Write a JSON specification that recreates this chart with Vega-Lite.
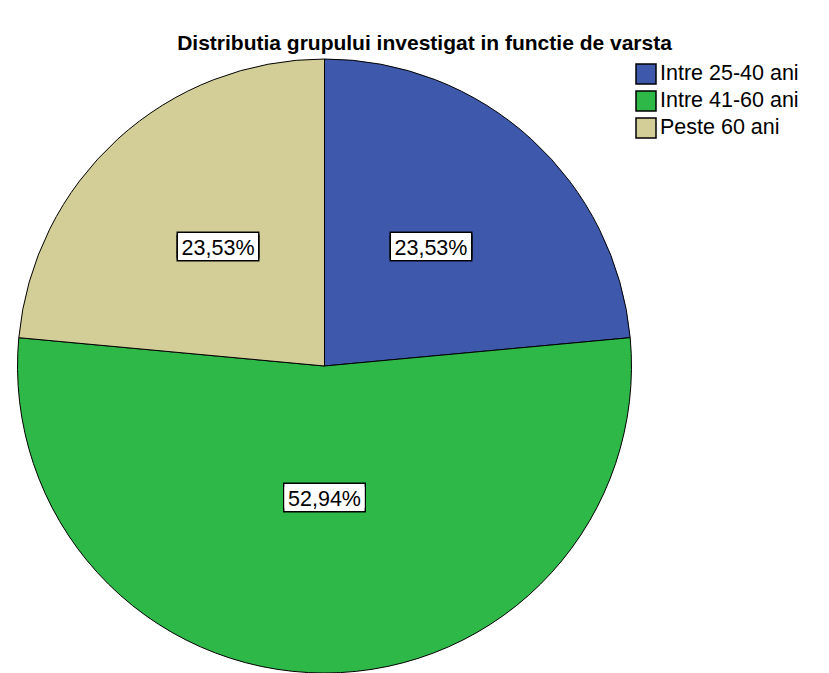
{
  "$schema": "https://vega.github.io/schema/vega-lite/v6.json",
  "width": 614,
  "height": 616,
  "autosize": {"type": "none"},
  "padding": {"left": 17.5, "top": 58, "right": 197.5, "bottom": 0},
  "background": "white",
  "title": {
    "text": "Distributia grupului investigat in functie de varsta",
    "font": "Liberation Sans",
    "fontSize": 21,
    "fontWeight": "bold",
    "color": "black",
    "anchor": "middle",
    "frame": "group",
    "dx": 100,
    "offset": 3
  },
  "data": {
    "values": [
      {"group": "Intre 25-40 ani", "share": 0.2353},
      {"group": "Intre 41-60 ani", "share": 0.5294},
      {"group": "Peste 60 ani", "share": 0.2353}
    ]
  },
  "encoding": {
    "theta": {"field": "share", "type": "quantitative", "stack": true},
    "order": {"field": "group", "type": "nominal", "sort": "ascending"}
  },
  "layer": [
    {
      "mark": {"type": "arc", "stroke": "black", "strokeWidth": 1},
      "encoding": {
        "color": {
          "field": "group",
          "type": "nominal",
          "scale": {
            "domain": ["Intre 25-40 ani", "Intre 41-60 ani", "Peste 60 ani"],
            "range": ["#3E58AC", "#2EB848", "#D3CE97"]
          },
          "legend": {
            "orient": "none",
            "legendX": 617.5,
            "legendY": 5,
            "title": null,
            "symbolType": "square",
            "symbolSize": 400,
            "symbolStrokeColor": "black",
            "symbolStrokeWidth": 1.5,
            "symbolOpacity": 1,
            "labelFont": "Liberation Sans",
            "labelFontSize": 21.5,
            "labelColor": "black",
            "labelOffset": 3,
            "rowPadding": 1,
            "labelLimit": 300,
            "padding": 0
          }
        }
      }
    },
    {
      "mark": {"type": "text", "font": "Liberation Sans", "fontSize": 80, "lineHeight": 2.6, "fill": "black", "stroke": "black", "strokeWidth": 3, "radius": 158, "align": "center", "baseline": "middle", "dy": -16},
      "encoding": {
        "detail": {"field": "group", "type": "nominal"},
        "text": {"condition": {"test": "datum.group !== 'Intre 41-60 ani'", "value": ["▬", "▬"]}, "value": ""}
      }
    },
    {
      "mark": {"type": "text", "font": "Liberation Sans", "fontSize": 80, "lineHeight": 2.6, "fill": "white", "radius": 158, "align": "center", "baseline": "middle", "dy": -16},
      "encoding": {
        "detail": {"field": "group", "type": "nominal"},
        "text": {"condition": {"test": "datum.group !== 'Intre 41-60 ani'", "value": ["▬", "▬"]}, "value": ""}
      }
    },
    {
      "mark": {"type": "text", "font": "Liberation Sans", "fontSize": 80, "lineHeight": 2.6, "fill": "black", "stroke": "black", "strokeWidth": 3, "radius": 134, "align": "center", "baseline": "middle", "dy": -16},
      "encoding": {
        "detail": {"field": "group", "type": "nominal"},
        "text": {"condition": {"test": "datum.group === 'Intre 41-60 ani'", "value": ["▬", "▬"]}, "value": ""}
      }
    },
    {
      "mark": {"type": "text", "font": "Liberation Sans", "fontSize": 80, "lineHeight": 2.6, "fill": "white", "radius": 134, "align": "center", "baseline": "middle", "dy": -16},
      "encoding": {
        "detail": {"field": "group", "type": "nominal"},
        "text": {"condition": {"test": "datum.group === 'Intre 41-60 ani'", "value": ["▬", "▬"]}, "value": ""}
      }
    },
    {
      "mark": {"type": "text", "font": "Liberation Sans", "fontSize": 21.5, "fill": "black", "radius": 158, "align": "center", "baseline": "middle"},
      "encoding": {
        "detail": {"field": "group", "type": "nominal"},
        "text": {"condition": {"test": "datum.group !== 'Intre 41-60 ani'", "field": "share", "type": "quantitative", "format": ".2%"}, "value": ""}
      }
    },
    {
      "mark": {"type": "text", "font": "Liberation Sans", "fontSize": 21.5, "fill": "black", "radius": 134, "align": "center", "baseline": "middle"},
      "encoding": {
        "detail": {"field": "group", "type": "nominal"},
        "text": {"condition": {"test": "datum.group === 'Intre 41-60 ani'", "field": "share", "type": "quantitative", "format": ".2%"}, "value": ""}
      }
    }
  ],
  "config": {
    "view": {"stroke": null},
    "locale": {"number": {"decimal": ",", "thousands": ".", "grouping": [3], "currency": ["", " €"]}}
  }
}
